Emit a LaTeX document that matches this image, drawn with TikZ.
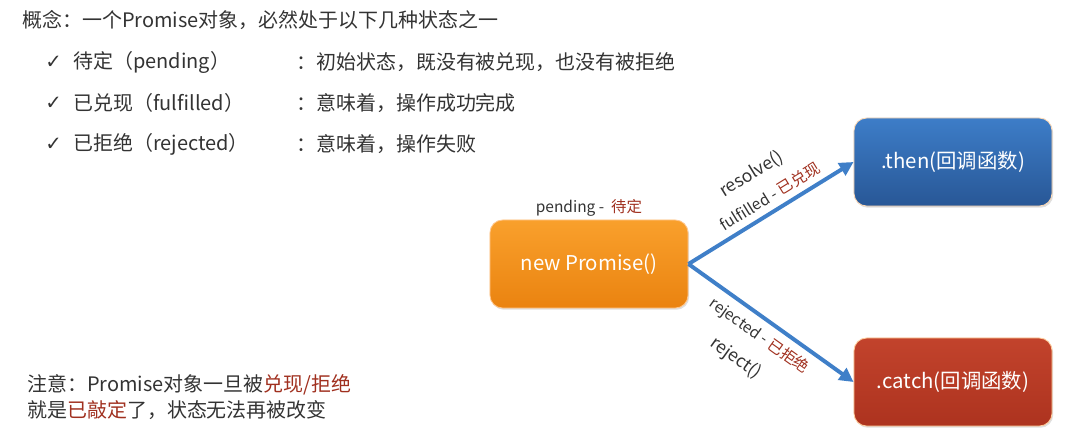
\documentclass[tikz,border=0pt]{standalone}
\usepackage{fontspec}
\setmainfont{Noto Sans CJK SC}
\newfontfamily\checkfont{DejaVu Sans}
\usetikzlibrary{arrows.meta,positioning,shadows}
\usepackage{xcolor}

\definecolor{txtgray}{HTML}{333333}
\definecolor{keyred}{HTML}{A0301F}
\definecolor{flowblue}{HTML}{3F7FC8}
\definecolor{pendtop}{HTML}{F9A02C}
\definecolor{pendbot}{HTML}{EA8310}
\definecolor{thentop}{HTML}{3D7DC8}
\definecolor{thenbot}{HTML}{285796}
\definecolor{catchtop}{HTML}{C2432C}
\definecolor{catchbot}{HTML}{AD331F}

\begin{document}
\begin{tikzpicture}[
      x=0.025cm, y=-0.025cm,
      line/.style={anchor=west, inner sep=0pt, text=txtgray,
                   font=\fontsize{14.2}{17}\selectfont},
      note/.style={anchor=west, inner sep=0pt, text=txtgray,
                   font=\fontsize{14.2}{17}\selectfont},
      tick/.style={anchor=west, inner sep=0pt, text=txtgray,
                   font=\checkfont\fontsize{14}{16}\selectfont},
      state/.style={rounded corners=9pt, minimum width=4.95cm, minimum height=2.2cm,
                    text=white, font=\fontsize{14.5}{17}\selectfont, line width=0.6pt,
                    drop shadow={opacity=0.25, shadow xshift=0.8pt, shadow yshift=-1.2pt}},
      lbl/.style={text=txtgray, inner sep=1pt, font=\fontsize{11}{13}\selectfont},
      call/.style={text=txtgray, inner sep=1pt, font=\fontsize{12.5}{15}\selectfont},
      arrow/.style={-{Triangle[length=10pt, width=10pt]}, line width=2.8pt, color=flowblue},
    ]
    \useasboundingbox (0,0) rectangle (1084,443);

    % concept text
    \node[line] (title) at (22,20) {概念：一个Promise对象，必然处于以下几种状态之一};

    \node[tick] (c1) at (45,62) {✓};
    \node[tick] (c2) at (45,103) {✓};
    \node[tick] (c3) at (45,144) {✓};

    \node[line] (s1) at (73,62) {待定（pending）};
    \node[line] (s2) at (73,103) {已兑现（fulfilled）};
    \node[line] (s3) at (73,144) {已拒绝（rejected）};

    \node[line] (d1) at (296,62) {：初始状态，既没有被兑现，也没有被拒绝};
    \node[line] (d2) at (296,103) {：意味着，操作成功完成};
    \node[line] (d3) at (296,144) {：意味着，操作失败};

    % states
    \node[state, draw=orange!45!white, top color=pendtop, bottom color=pendbot]
      (promise) at (589,264) {new Promise()};
    \node[state, draw=orange!30!white, top color=thentop, bottom color=thenbot]
      (thenbox) at (953,162) {.then(回调函数)};
    \node[state, draw=orange!40!white, top color=catchtop, bottom color=catchbot]
      (catchbox) at (953,382) {.catch(回调函数)};

    \node[lbl, above=1pt of promise] (pend) {pending - \ {\color{keyred}待定}};

    % transitions
    \draw[arrow] (promise.east) -- (thenbox.west)
      node[lbl, sloped, pos=0.54, above=3pt] (ful) {fulfilled - {\color{keyred}已兑现}}
      node[call, sloped, pos=0.52, above=22pt] (res) {resolve()};
    \draw[arrow] (promise.east) -- (catchbox.west)
      node[lbl, sloped, pos=0.49, below=4pt] (rej) {rejected - {\color{keyred}已拒绝}}
      node[call, sloped, pos=0.46, below=26pt] (rjt) {reject()};

    % note
    \node[note] (n1) at (27,385) {注意：Promise对象一旦被{\color{keyred}兑现/拒绝}};
    \node[note] (n2) at (27,410) {就是{\color{keyred}已敲定}了，状态无法再被改变};
  \end{tikzpicture}
\end{document}
